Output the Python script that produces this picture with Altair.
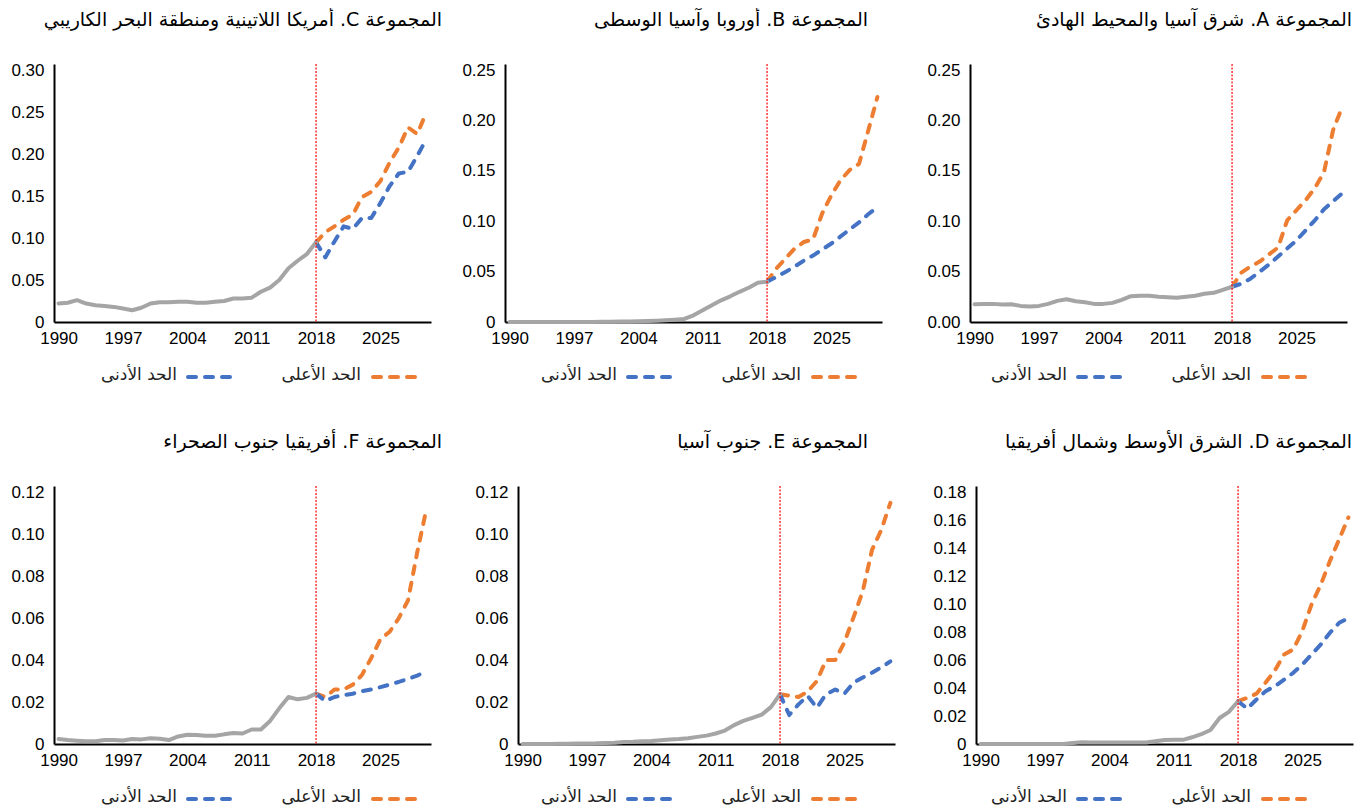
import altair as alt
import pandas as pd

# ---------------- data ----------------
YEARS_HIST = list(range(1990, 2019))
YEARS_PROJ = list(range(2018, 2031))
X_TICKS = [1990, 1997, 2004, 2011, 2018, 2025]
SPLIT_YEAR = [2018]

UPPER_LABEL = "الحد الأعلى"
LOWER_LABEL = "الحد الأدنى"

TITLE_A = "المجموعة A. شرق آسيا والمحيط الهادئ"
TITLE_B = "المجموعة B. أوروبا وآسيا الوسطى"
TITLE_C = "المجموعة C. أمريكا اللاتينية ومنطقة البحر الكاريبي"
TITLE_D = "المجموعة D. الشرق الأوسط وشمال أفريقيا"
TITLE_E = "المجموعة E. جنوب آسيا"
TITLE_F = "المجموعة F. أفريقيا جنوب الصحراء"

C_HIST = [0.022, 0.023, 0.026, 0.022, 0.020, 0.019, 0.018, 0.016, 0.014, 0.017,
          0.022, 0.0235, 0.0235, 0.024, 0.024, 0.023, 0.023, 0.024, 0.025, 0.028,
          0.028, 0.029, 0.036, 0.041, 0.050, 0.064, 0.073, 0.081, 0.095]
C_UPPER = [0.095, 0.107, 0.114, 0.122, 0.128, 0.149, 0.155, 0.168, 0.190, 0.208, 0.232, 0.224, 0.250]
C_LOWER = [0.095, 0.077, 0.096, 0.114, 0.111, 0.124, 0.124, 0.142, 0.162, 0.177, 0.179, 0.198, 0.218]

B_HIST = [0.0, 0.0, 0.0, 0.0, 0.0, 0.0, 0.0, 0.0, 0.0, 0.0,
          0.0002, 0.0003, 0.0004, 0.0005, 0.0007, 0.001, 0.0013, 0.0017, 0.0023, 0.003,
          0.0066, 0.0116, 0.0166, 0.0215, 0.0255, 0.030, 0.034, 0.039, 0.040]
B_UPPER = [0.040, 0.053, 0.063, 0.073, 0.0795, 0.082, 0.108, 0.126, 0.141, 0.151, 0.157, 0.190, 0.2235]
B_LOWER = [0.040, 0.0447, 0.0497, 0.055, 0.061, 0.066, 0.072, 0.078, 0.085, 0.092, 0.099, 0.107, 0.114]

A_HIST = [0.0176, 0.018, 0.018, 0.0173, 0.0176, 0.016, 0.0153, 0.016, 0.018, 0.021,
          0.0226, 0.0206, 0.0196, 0.018, 0.018, 0.019, 0.022, 0.0256, 0.026, 0.026,
          0.025, 0.0246, 0.024, 0.025, 0.026, 0.028, 0.029, 0.032, 0.035]
A_UPPER = [0.035, 0.049, 0.055, 0.060, 0.067, 0.074, 0.101, 0.111, 0.121, 0.133, 0.149, 0.191, 0.214]
A_LOWER = [0.035, 0.038, 0.043, 0.050, 0.057, 0.065, 0.073, 0.081, 0.091, 0.101, 0.112, 0.120, 0.128]

F_HIST = [0.0024, 0.0019, 0.0016, 0.0013, 0.0013, 0.0019, 0.0019, 0.0017, 0.0024, 0.0022,
          0.0027, 0.0025, 0.0019, 0.0036, 0.0044, 0.0043, 0.0039, 0.0039, 0.0046, 0.0052,
          0.005, 0.0069, 0.0069, 0.011, 0.017, 0.0224, 0.0213, 0.022, 0.024]
F_UPPER = [0.024, 0.0224, 0.026, 0.026, 0.0283, 0.033, 0.041, 0.050, 0.0535, 0.060, 0.0685, 0.0913, 0.112]
F_LOWER = [0.024, 0.0205, 0.0224, 0.0233, 0.024, 0.0252, 0.026, 0.0271, 0.0283, 0.0296, 0.031, 0.0326, 0.0346]

E_HIST = [0.0, 0.0, 0.0, 0.0, 0.0001, 0.0001, 0.0002, 0.0002, 0.0003, 0.0005,
          0.0006, 0.001, 0.0011, 0.0013, 0.0014, 0.0018, 0.0022, 0.0024, 0.0027, 0.0034,
          0.004, 0.005, 0.0064, 0.009, 0.011, 0.0125, 0.014, 0.0176, 0.0237]
E_UPPER = [0.0237, 0.023, 0.0224, 0.025, 0.030, 0.040, 0.040, 0.0485, 0.0605, 0.073, 0.0925, 0.102, 0.115]
E_LOWER = [0.0237, 0.0138, 0.0189, 0.0229, 0.0173, 0.0237, 0.026, 0.024, 0.0293, 0.0317, 0.034, 0.0365, 0.0394]

D_HIST = [0.0, 0.0, 0.0, 0.0, 0.0, 0.0, 0.0, 0.0, 0.0, 0.0,
          0.0007, 0.0012, 0.001, 0.001, 0.001, 0.001, 0.001, 0.001, 0.001, 0.0019,
          0.0029, 0.003, 0.003, 0.0048, 0.007, 0.010, 0.0186, 0.023, 0.0306]
D_UPPER = [0.0306, 0.033, 0.036, 0.044, 0.0526, 0.064, 0.0676, 0.081, 0.100, 0.114, 0.131, 0.1465, 0.162]
D_LOWER = [0.0306, 0.0253, 0.0318, 0.0378, 0.0413, 0.046, 0.0509, 0.0569, 0.064, 0.0712, 0.0796, 0.0867, 0.090]

# ---------------- style ----------------
GRAY = "#A5A5A5"
ORANGE = "#ED7D31"
BLUE = "#4472C4"
ARABIC_FONT = "DejaVu Sans"
NUM_FONT = "Liberation Sans"
W, H = 377, 258
LEGEND_Y = 313


def make_panel(title, hist, upper, lower, ymax, ystep, zero_label, title_dx, legend_r):
    hist_df = pd.DataFrame({"year": YEARS_HIST, "value": hist})
    proj_df = pd.DataFrame({
        "year": YEARS_PROJ + YEARS_PROJ,
        "value": upper + lower,
        "series": ["upper"] * len(YEARS_PROJ) + ["lower"] * len(YEARS_PROJ),
    })
    n = int(round(ymax / ystep))
    yticks = [round(i * ystep, 2) for i in range(n + 1)]
    if zero_label == "0":
        label_expr = "datum.value == 0 ? '0' : format(datum.value, '.2f')"
    else:
        label_expr = "format(datum.value, '.2f')"

    x_enc = alt.X("year:Q",
                  scale=alt.Scale(domain=[1989.5, 2030.5], nice=False, zero=False),
                  axis=alt.Axis(values=X_TICKS, format="d", title=None, labelPadding=8,
                                labelFlush=False, labelOverlap=False, tickCount=20))
    y_enc = alt.Y("value:Q",
                  scale=alt.Scale(domain=[0, ymax * 1.025], nice=False),
                  axis=alt.Axis(values=yticks, labelExpr=label_expr, title=None,
                                labelPadding=10, labelOverlap=False, labelFlush=False,
                                tickCount=20))

    up = alt.Chart(proj_df).transform_filter(alt.datum.series == "upper").mark_line(
        color=ORANGE, strokeWidth=4, strokeDash=[8, 9], strokeCap="round", strokeJoin="round"
    ).encode(x=x_enc, y=y_enc)
    lo = alt.Chart(proj_df).transform_filter(alt.datum.series == "lower").mark_line(
        color=BLUE, strokeWidth=4, strokeDash=[8, 9], strokeCap="round", strokeJoin="round"
    ).encode(x="year:Q", y="value:Q")
    hi = alt.Chart(hist_df).mark_line(
        color=GRAY, strokeWidth=4, strokeCap="round", strokeJoin="round"
    ).encode(x="year:Q", y="value:Q")
    rule = alt.Chart(pd.DataFrame({"year": SPLIT_YEAR})).mark_rule(
        color="#FF0000", strokeWidth=1.2, strokeDash=[2, 1.5]
    ).encode(x="year:Q")

    one = pd.DataFrame({"k": [0]})
    leg_up = alt.Chart(one).mark_rule(color=ORANGE, strokeWidth=4, strokeDash=[8, 9],
                                      strokeCap="round").encode(
        x=alt.value(legend_r - 44), x2=alt.value(legend_r - 2), y=alt.value(LEGEND_Y))
    leg_lo = alt.Chart(one).mark_rule(color=BLUE, strokeWidth=4, strokeDash=[8, 9],
                                      strokeCap="round").encode(
        x=alt.value(legend_r - 229), x2=alt.value(legend_r - 187), y=alt.value(LEGEND_Y))
    txt_up = alt.Chart(one).mark_text(align="right", baseline="middle", font=ARABIC_FONT,
                                      fontSize=17, color="#222222").encode(
        x=alt.value(legend_r - 56), y=alt.value(LEGEND_Y - 2), text=alt.value(UPPER_LABEL))
    txt_lo = alt.Chart(one).mark_text(align="right", baseline="middle", font=ARABIC_FONT,
                                      fontSize=17, color="#222222").encode(
        x=alt.value(legend_r - 240), y=alt.value(LEGEND_Y - 2), text=alt.value(LOWER_LABEL))

    return alt.layer(up, lo, hi, rule, leg_up, leg_lo, txt_up, txt_lo).properties(
        width=W, height=H,
        title=alt.TitleParams(text="\u202b" + title + "\u202c", anchor="end", frame="group",
                              dx=title_dx, offset=31, font=ARABIC_FONT, fontSize=19,
                              fontWeight="normal", color="black"),
    )


pC = make_panel(TITLE_C, C_HIST, C_UPPER, C_LOWER, 0.30, 0.05, "0", 11, 363)
pB = make_panel(TITLE_B, B_HIST, B_UPPER, B_LOWER, 0.25, 0.05, "0", -14, 352)
pA = make_panel(TITLE_A, A_HIST, A_UPPER, A_LOWER, 0.25, 0.05, "0.00", 5, 337)
pF = make_panel(TITLE_F, F_HIST, F_UPPER, F_LOWER, 0.12, 0.02, "0", 11, 363)
pE = make_panel(TITLE_E, E_HIST, E_UPPER, E_LOWER, 0.12, 0.02, "0", -27, 339)
pD = make_panel(TITLE_D, D_HIST, D_UPPER, D_LOWER, 0.18, 0.02, "0", -1, 331)

top = alt.hconcat(pC, alt.hconcat(pB, pA, spacing=88, bounds="flush"), spacing=74, bounds="flush")
bottom = alt.hconcat(pF, alt.hconcat(pE, pD, spacing=81, bounds="flush"), spacing=87, bounds="flush")

chart = alt.vconcat(top, bottom, spacing=422, bounds="flush").properties(
    padding={"left": 2, "top": 3, "right": 5, "bottom": 5}
).configure_view(stroke=None).configure_axis(
    domainColor="black", domainWidth=2, ticks=False, grid=False,
    labelFont=NUM_FONT, labelFontSize=17, labelColor="black"
)

chart.save("out.html", embed_options={"renderer": "svg", "actions": False})
